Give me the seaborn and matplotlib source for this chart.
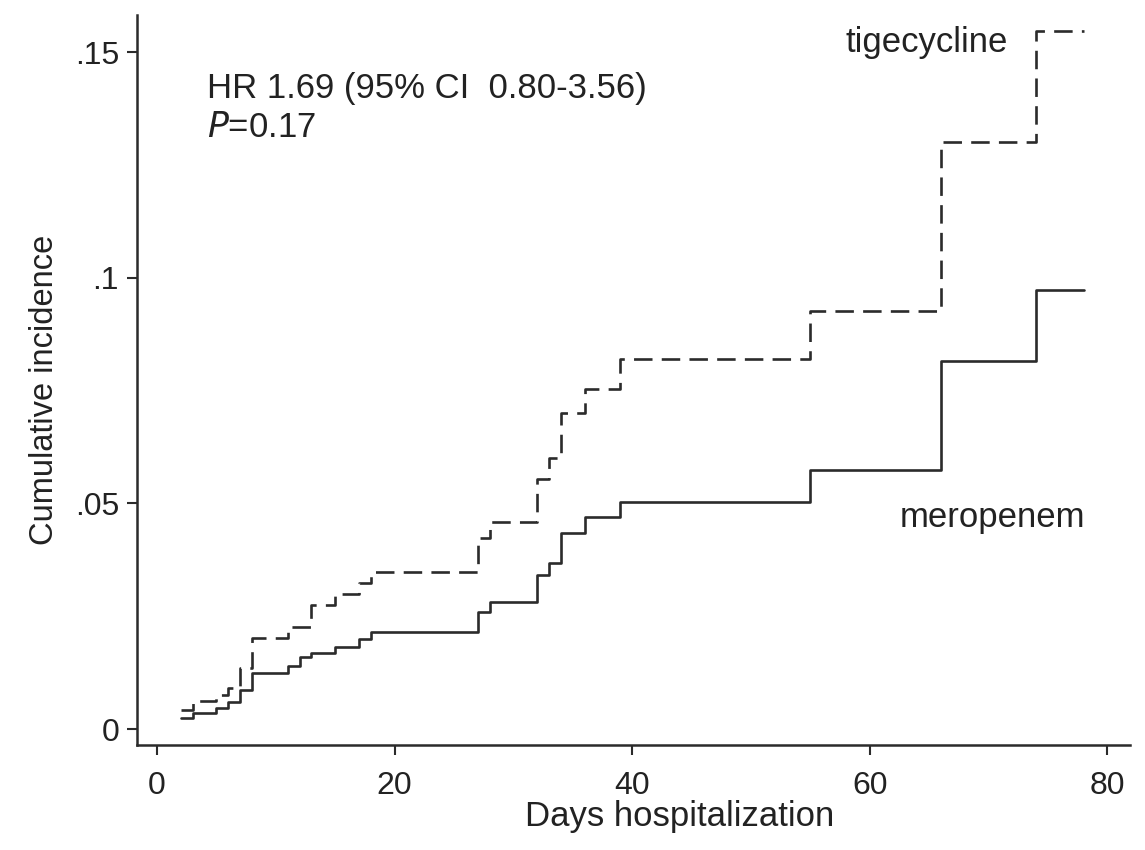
import matplotlib
matplotlib.use("Agg")
import matplotlib.pyplot as plt
import numpy as np
import pandas as pd
import seaborn as sns

# cumulative incidence (step after each day)
mero_days = [2, 3, 5, 6, 7, 8, 11, 12, 13, 15, 17, 18, 27, 28, 32, 33, 34, 36, 39, 55, 66, 74, 78]
mero_cif = [0.0024, 0.0035, 0.0046, 0.0060, 0.0086, 0.0124, 0.0139, 0.0159, 0.0168, 0.0181,
            0.0199, 0.0215, 0.0259, 0.0281, 0.0341, 0.0367, 0.0434, 0.0469, 0.0504, 0.0575,
            0.0816, 0.0973, 0.0973]

tige_days = [2, 3, 5, 6, 7, 8, 11, 13, 15, 17, 18, 27, 28, 32, 33, 34, 36, 39, 55, 66, 74, 78]
tige_cif = [0.0042, 0.0062, 0.0075, 0.0090, 0.0135, 0.0201, 0.0226, 0.0274, 0.0300, 0.0323,
            0.0347, 0.0423, 0.0458, 0.0555, 0.0600, 0.0701, 0.0754, 0.0820, 0.0927, 0.1300,
            0.1546, 0.1546]

y_ticks = [0, 0.05, 0.1, 0.15]
y_ticklabels = ["0", ".05", ".1", ".15"]
x_ticks = [0, 20, 40, 60, 80]

df = pd.concat([
    pd.DataFrame({"day": mero_days, "cif": mero_cif, "group": "meropenem"}),
    pd.DataFrame({"day": tige_days, "cif": tige_cif, "group": "tigecycline"}),
], ignore_index=True)

sns.set_theme(style="white")
plt.rcParams["font.family"] = ["Liberation Sans", "DejaVu Sans"]

fig = plt.figure(figsize=(11.45, 8.5), dpi=100)
ax = fig.add_axes([0.1197, 0.1235, 0.8672, 0.8588])

ink = "#2b2b2b"
sns.lineplot(data=df, x="day", y="cif", style="group", estimator=None,
             drawstyle="steps-post", color=ink, linewidth=1.9,
             dashes={"meropenem": "", "tigecycline": (7, 3.5)},
             legend=False, ax=ax)

ax.set_xlim(-1.68, 81.9)
ax.set_ylim(-0.00355, 0.1582)
ax.set_xticks(x_ticks)
ax.set_yticks(y_ticks)
ax.set_yticklabels(y_ticklabels)

sns.despine(ax=ax)
for s in ("left", "bottom"):
    ax.spines[s].set_color(ink)
    ax.spines[s].set_linewidth(1.8)
ax.tick_params(axis="both", direction="out", length=7, width=1.5, color=ink,
               labelcolor="#222222", labelsize=23, left=True, bottom=True)
ax.tick_params(axis="x", pad=12)
ax.tick_params(axis="y", pad=6)

ax.set_xlabel("Days hospitalization", fontsize=25, color="#222222")
ax.set_ylabel("Cumulative incidence", fontsize=23.5, color="#222222")
ax.xaxis.set_label_coords(0.546, -0.098)
ax.xaxis.label.set_va("center")
ax.yaxis.set_label_coords(-0.093, 0.486)
ax.yaxis.label.set_va("center")

ax.text(4.2, 0.142, "HR 1.69 (95% CI  0.80-3.56)", fontsize=25, color="#222222",
        ha="left", va="center")
ax.text(4.2, 0.1332, r"$\it{P}$=0.17", fontsize=25, color="#222222",
        ha="left", va="center")
ax.text(64.8, 0.1522, "tigecycline", fontsize=25, color="#222222", ha="center", va="center")
ax.text(70.3, 0.0468, "meropenem", fontsize=25, color="#222222", ha="center", va="center")

fig.savefig("out.png", dpi=100)
